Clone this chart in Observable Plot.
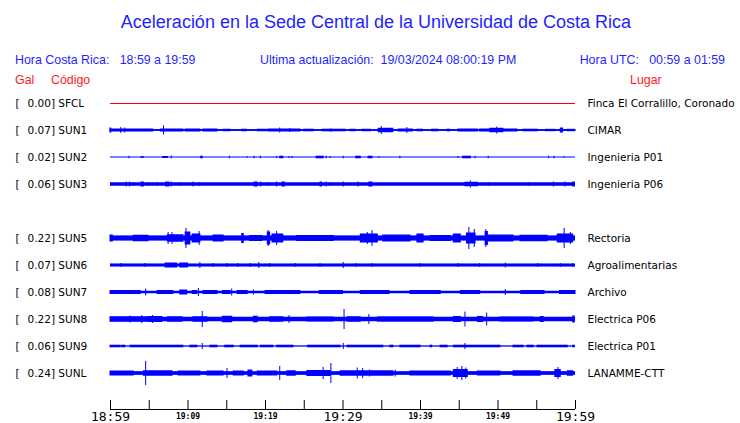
<!DOCTYPE html>
<html><head><meta charset="utf-8">
<script src="https://cdn.jsdelivr.net/npm/d3@7"></script>
<script src="https://cdn.jsdelivr.net/npm/@observablehq/plot@0.6"></script>
<style>
html,body{margin:0;padding:0;background:#fff;}
#wrap{position:relative;width:740px;height:423px;overflow:hidden;}
.h{position:absolute;white-space:pre;font-family:"Liberation Sans",Arial,sans-serif;color:#1f1fff;}
.r{color:#ff1a1a;}
#chart{position:absolute;left:0;top:0;}
</style></head>
<body>
<div id="wrap">
  <div class="h" id="title" style="left:0;width:752px;text-align:center;top:10px;font-size:18px;line-height:24px;"></div>
  <div class="h" id="s1" style="left:15px;top:53px;font-size:12.4px;line-height:14px;"></div>
  <div class="h" id="s2" style="left:260px;top:53px;font-size:12.4px;line-height:14px;"></div>
  <div class="h" id="s3" style="right:15px;top:53px;font-size:12.4px;line-height:14px;"></div>
  <div class="h r" id="g1" style="left:15px;top:73px;font-size:12.4px;line-height:14px;"></div>
  <div class="h r" id="g2" style="left:51px;top:73px;font-size:12.4px;line-height:14px;"></div>
  <div class="h r" id="g3" style="left:630px;top:73px;font-size:12.4px;line-height:14px;"></div>
  <div id="chart"></div>
</div>
<script>
// ---------- texts ----------
const titleText = "Aceleración en la Sede Central de la Universidad de Costa Rica";
const subLeft = "Hora Costa Rica:   18:59 a 19:59";
const subMid = "Ultima actualización:  19/03/2024 08:00:19 PM";
const subRight = "Hora UTC:   00:59 a 01:59";
const colHeads = ["Gal", "Código", "Lugar"];

// ---------- stations (row slots, null = empty slot) ----------
const slots  = ["SFCL", "SUN1", "SUN2", "SUN3", null, "SUN5", "SUN6", "SUN7", "SUN8", "SUN9", "SUNL"];
const peaks  = [0.00, 0.07, 0.02, 0.06, null, 0.22, 0.07, 0.08, 0.22, 0.06, 0.24];
const places = ["Finca El Corralillo, Coronado", "CIMAR", "Ingenieria P01", "Ingenieria P06", null,
                "Rectoria", "Agroalimentarias", "Archivo", "Electrica P06", "Electrica P01", "LANAMME-CTT"];
// background (continuous) half amplitude of each trace, Gal
const baseAmp = [0, 0.019, 0.01, 0.035, null, 0.052, 0.031, 0.025, 0.045, 0.013, 0.037];

// ---------- bursts: [start minute, end minute, half amplitude Gal] (minutes after 18:59) ----------
const sun1 = [[0,5.5,0.03],[0,0.1,0.05],[1.4,1.4,0.06],[1.9,1.9,0.05],[6.5,9.4,0.03],[6.9,6.9,0.09],
  [9.7,11.6,0.03],[12,13.8,0.03],[14.6,15.5,0.025],[17,17.6,0.025],[19,20.2,0.025],[20.4,24.5,0.03],
  [21.9,21.9,0.05],[23.2,23.2,0.04],[25,26.2,0.026],[27.4,28.6,0.026],[28.4,30.3,0.026],[31,31.6,0.025],
  [32.5,33.6,0.025],[34.6,36.5,0.045],[35,35,0.08],[37.2,39,0.03],[38.3,38.3,0.06],[39.6,40.3,0.026],
  [41.5,42.3,0.026],[43.5,43.8,0.026],[44.9,47.4,0.03],[47.7,52.5,0.03],[49,50.7,0.045],[49.9,49.9,0.07],
  [53.3,55.1,0.026],[56.2,57.4,0.024],[58.1,58.4,0.05],[59,60,0.024]];
const sun2 = [[2.45,2.45,0.026],[4,4.3,0.016],[6.8,7.4,0.02],[7.9,7.9,0.03],[11.7,11.9,0.026],[15.4,15.4,0.026],
  [17.7,17.7,0.016],[18.6,18.6,0.026],[19.4,19.4,0.026],[21.5,21.5,0.02],[21.9,22.3,0.026],[23.1,23.1,0.02],
  [23.5,23.5,0.02],[26.6,27.5,0.026],[27.9,27.9,0.026],[28.4,28.4,0.02],[30.1,30.1,0.026],[31.7,32.3,0.026],
  [33.3,33.8,0.026],[34.7,34.7,0.02],[37.4,37.4,0.026],[44.9,44.9,0.02],[45.5,46.5,0.026],[47.1,47.1,0.026],
  [48.8,48.8,0.026],[56.6,56.6,0.026],[57.3,57.3,0.026],[58.6,58.6,0.016]];
const sun3 = [[2.1,2.1,0.05],[2.5,2.5,0.05],[3,3,0.04],[4,4.3,0.05],[4.8,4.8,0.04],[6.1,6.1,0.04],[7.2,7.6,0.05],
  [7.9,7.9,0.05],[8.9,8.9,0.04],[10.7,10.7,0.05],[11.5,11.5,0.04],[18.6,19,0.05],[19.4,19.4,0.05],[20.5,20.5,0.04],
  [21.5,21.5,0.05],[22.2,22.5,0.05],[27.1,27.3,0.05],[27.9,27.9,0.05],[28.3,28.3,0.04],[30.1,30.1,0.05],
  [32,32,0.05],[33.4,33.8,0.05],[45.8,47.4,0.045],[46.5,46.5,0.07],[48.8,48.8,0.04],[54,54,0.035],
  [57.2,57.2,0.05],[58.7,58.7,0.05],[59.7,59.9,0.05]];
const sun5 = [[0,0.3,0.07],[3,4.9,0.065],[7.4,9.4,0.075],[7.5,7.5,0.12],[8,8,0.12],[9.7,10.3,0.13],[9.8,9.8,0.2],
  [10.6,11.6,0.09],[11.5,11.5,0.14],[13.3,14.6,0.07],[17,17.2,0.1],[18,19.6,0.06],[20.3,20.6,0.13],[20.4,20.4,0.16],
  [20.9,22.3,0.09],[21.5,21.5,0.14],[24.1,28.8,0.06],[32.3,34.5,0.09],[33.8,33.8,0.16],[33.2,33.2,0.12],[35.2,38.7,0.07],
  [39.6,40.4,0.09],[41.3,43.9,0.06],[44.3,45.2,0.09],[46,47.1,0.11],[46.3,46.3,0.22],[47,47,0.18],
  [48.4,48.7,0.14],[48.5,48.5,0.18],[48.8,52,0.07],[52.9,56.4,0.065],[57.7,59.7,0.09],[58.6,58.6,0.2],[59.4,59.4,0.12]];
const sun6 = [[1.4,1.4,0.04],[4.5,4.5,0.04],[7.1,8.6,0.05],[9,10,0.05],[11.6,11.6,0.06],[13.3,13.3,0.04],
  [15.1,15.1,0.04],[16.5,16.5,0.04],[18.1,18.1,0.04],[19.2,19.2,0.06],[20.6,20.6,0.04],[23.9,23.9,0.04],
  [27.1,27.1,0.04],[30.1,30.1,0.06],[31.7,31.7,0.04],[33.8,33.8,0.04],[40,40,0.04],[44.9,44.9,0.04],
  [47.7,47.7,0.04],[51,51,0.05],[55.2,55.2,0.04],[58.1,58.1,0.04],[59.7,59.7,0.04]];
const sun7 = [[0,3.9,0.04],[4.6,4.6,0.07],[6.1,8.1,0.04],[9,9.9,0.05],[10.6,11.2,0.04],[11.4,11.4,0.08],
  [12,13.8,0.04],[14.5,15.5,0.04],[15.7,15.7,0.07],[16.4,17.7,0.04],[18.5,18.5,0.05],[20,24.5,0.04],
  [27,30,0.04],[32.3,36,0.04],[38.7,42.6,0.04],[45.2,47.7,0.04],[51,51,0.06],[53,56,0.04],[58,60,0.04]];
const sun8 = [[0,4.8,0.055],[2.6,2.6,0.07],[4.1,4.1,0.08],[4.9,6.7,0.06],[5.5,5.5,0.08],[7.4,9.3,0.055],
  [10.7,12.5,0.055],[11.9,11.9,0.16],[14.5,15.7,0.065],[18.5,19,0.065],[20.6,22.3,0.055],[23.1,23.1,0.08],
  [25.4,28.8,0.05],[30.2,30.2,0.2],[30.6,32.3,0.055],[33.4,33.4,0.1],[34.5,41.7,0.052],[44.3,45.2,0.06],
  [45.8,45.8,0.15],[47.4,48.1,0.06],[48.6,48.6,0.13],[50.3,54.6,0.05],[55.5,55.9,0.06],[59.7,59.9,0.07]];
const sun9 = [[0,1.3,0.026],[1.5,1.9,0.026],[2.6,9.4,0.026],[10.3,11.2,0.026],[12.9,13.8,0.026],[14.8,15.9,0.026],
  [16.8,19,0.026],[19.4,21,0.026],[21.5,23.6,0.026],[25.5,29.7,0.026],[30.6,35.2,0.026],[36.1,36.5,0.026],
  [37.4,40,0.026],[41.3,41.5,0.026],[42.6,43.5,0.026],[44.3,50.3,0.026],[52,53.3,0.026],[53.8,54.6,0.026],
  [55.1,59,0.026],[59.7,59.9,0.026],[11.9,11.9,0.06],[30.1,30.1,0.06],[45.8,45.8,0.06]];
const sunL = [[0,3,0.05],[4.6,4.6,0.24],[4.3,8,0.055],[8.8,11.6,0.05],[12.5,14.6,0.05],[15.1,15.1,0.1],
  [15.9,17.2,0.05],[17.8,18.3,0.07],[19,21.5,0.05],[21.9,21.9,0.14],[22.8,23.9,0.055],[25.4,28.4,0.06],
  [27.5,27.5,0.12],[28.5,28.5,0.2],[29.7,36.5,0.055],[31.9,31.9,0.11],[32.6,32.6,0.1],[33.5,33.5,0.07],
  [36.8,36.8,0.07],[38.7,43.9,0.05],[44.3,46.1,0.08],[44.8,44.8,0.12],[45.4,45.4,0.14],[45.9,45.9,0.11],
  [47.4,50.3,0.05],[52,55.5,0.055],[57.4,58.1,0.08],[57.8,57.8,0.12],[59,59.7,0.055]];
const burstsByCode = {SUN1: sun1, SUN2: sun2, SUN3: sun3, SUN5: sun5, SUN6: sun6, SUN7: sun7, SUN8: sun8, SUN9: sun9, SUNL: sunL};

// ---------- time axis ----------
const tickMinutes = [0,5,10,15,20,25,30,35,40,45,50,55,60];
const tickLabels  = ["18:59","","19:09","","19:19","","19:29","","19:39","","19:49","","19:59"];
const bigLabels   = ["18:59","19:29","19:59"];

// ---------- build ----------
document.getElementById("title").textContent = titleText;
document.getElementById("s1").textContent = subLeft;
document.getElementById("s2").textContent = subMid;
document.getElementById("s3").textContent = subRight;
document.getElementById("g1").textContent = colHeads[0];
document.getElementById("g2").textContent = colHeads[1];
document.getElementById("g3").textContent = colHeads[2];

const ROW = 0.54; // Gal spanned by one row slot
const rows = slots.map((code, i) => ({code, i, off: i * ROW, peak: peaks[i], place: places[i], base: baseAmp[i]}))
  .filter(d => d.code);
const traces = rows.filter(d => d.base > 0);
const bursts = rows.flatMap(r => (burstsByCode[r.code] || []).map(([a, b, amp]) => ({x1: a, x2: b, y1: r.off - amp, y2: r.off + amp})));
const axisY = 11.333 * ROW, tickTop = 11 * ROW;
const ticks = tickMinutes.map((m, k) => ({m, label: tickLabels[k], big: bigLabels.includes(tickLabels[k])}));

const chart = Plot.plot({
  width: 740, height: 423,
  marginLeft: 110, marginRight: 165, marginTop: 103, marginBottom: 50,
  x: {domain: [0, 60], axis: null},
  y: {domain: [0, 10 * ROW], reverse: true, axis: null},
  style: {background: "transparent", fontFamily: "DejaVu Sans", color: "#000"},
  marks: [
    Plot.ruleY(rows.filter(d => d.base === 0), {y: "off", x1: 0, x2: 60, stroke: "#ff0000", strokeWidth: 1}),
    Plot.rect(traces, {x1: 0, x2: 60, y1: d => d.off - d.base, y2: d => d.off + d.base, fill: "#0000ff"}),
    Plot.rect(bursts, {x1: "x1", x2: "x2", y1: "y1", y2: "y2", fill: "#0000ff", insetLeft: -0.5, insetRight: -0.5}),
    Plot.text(rows, {y: "off", frameAnchor: "left", dx: -95, text: () => "[", textAnchor: "start", fontSize: 10.5, fill: "#000"}),
    Plot.text(rows, {y: "off", frameAnchor: "left", dx: -83, text: d => `${d.peak.toFixed(2)}] ${d.code}`, textAnchor: "start", fontSize: 10.5, fill: "#000"}),
    Plot.text(rows, {y: "off", frameAnchor: "right", dx: 12, text: "place", textAnchor: "start", fontSize: 10.5, fill: "#000"}),
    Plot.ruleY([axisY], {x1: 0, x2: 60, stroke: "#000"}),
    Plot.ruleX(ticks, {x: "m", y1: tickTop, y2: axisY, stroke: "#000"}),
    Plot.text(ticks.filter(d => d.big), {x: "m", y: axisY, dy: 7.5, text: "label", fontFamily: "DejaVu Sans Mono", fontSize: 13, lineAnchor: "middle", fill: "#000"}),
    Plot.text(ticks.filter(d => !d.big && d.label), {x: "m", y: axisY, dy: 6.5, text: "label", fontFamily: "DejaVu Sans Mono", fontWeight: "bold", fontSize: 8, lineAnchor: "middle", fill: "#000"})
  ]
});
document.getElementById("chart").appendChild(chart);
</script>
</body></html>
